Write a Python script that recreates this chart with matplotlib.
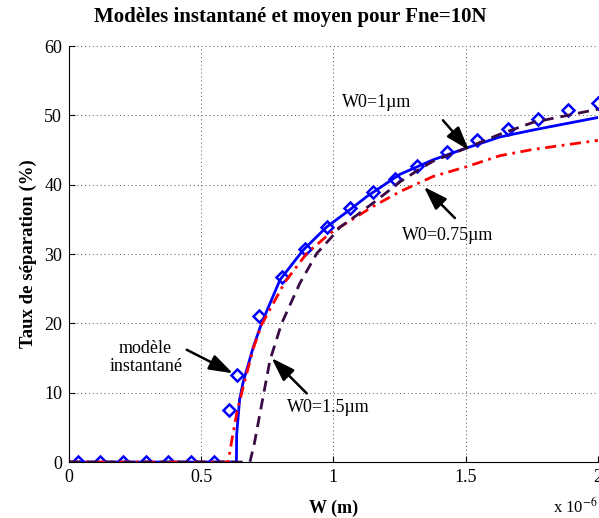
import matplotlib
matplotlib.use('Agg')
import matplotlib.pyplot as plt
from matplotlib.ticker import FuncFormatter, MultipleLocator

plt.rcParams['font.family'] = ['Liberation Serif', 'DejaVu Serif']
plt.rcParams['mathtext.fontset'] = 'stix'

# Mesures (modèle instantané) - largeur W en µm, taux de séparation en %
w_mesure = [0.034, 0.117, 0.204, 0.291, 0.374, 0.461, 0.548, 0.605, 0.634, 0.718,
            0.805, 0.892, 0.975, 1.062, 1.149, 1.233, 1.316, 1.429, 1.543, 1.660,
            1.773, 1.887, 2.0]
taux_mesure = [0, 0, 0, 0, 0, 0, 0, 7.5, 12.5, 21.1,
               26.7, 30.8, 33.9, 36.6, 38.9, 40.9, 42.7, 44.7, 46.4, 48.0,
               49.5, 50.8, 51.8]

# W0 = 1 µm (trait plein bleu)
w_1 = [0, 0.633, 0.634, 0.645, 0.659, 0.697, 0.728, 0.798, 0.886, 0.974, 1.062,
       1.126, 1.251, 1.377, 1.503, 1.63, 1.755, 2.0]
taux_1 = [0, 0, 4.0, 9.0, 11.6, 16.6, 20.0, 26.3, 30.6, 33.9, 36.4,
          38.3, 41.5, 43.6, 45.3, 46.9, 47.9, 49.7]

# W0 = 0.75 µm (tiret-point rouge)
w_075 = [0, 0.602, 0.615, 0.634, 0.659, 0.697, 0.728, 0.817, 0.899, 0.987, 1.088,
         1.151, 1.251, 1.377, 1.503, 1.63, 1.755, 2.0]
taux_075 = [0, 0, 3.0, 7.0, 10.9, 16.4, 19.8, 26.0, 30.1, 33.0, 35.4,
            36.9, 39.0, 41.2, 42.6, 44.2, 45.1, 46.4]

# W0 = 1.5 µm (tirets violets)
w_15 = [0, 0.684, 0.700, 0.722, 0.760, 0.804, 0.873, 0.937, 0.999, 1.025, 1.088,
        1.151, 1.251, 1.327, 1.377, 1.503, 1.63, 1.755, 2.0]
taux_15 = [0, 0, 2.5, 7.0, 14.7, 20.0, 25.8, 30.1, 32.7, 33.9, 35.6,
           37.4, 40.4, 42.3, 43.4, 45.3, 47.3, 49.0, 50.9]

fig = plt.figure(figsize=(5.99, 5.18), dpi=100)
ax = fig.add_axes([0.1152, 0.108, 0.883, 0.803])

ax.plot(w_mesure, taux_mesure, linestyle='none', marker='D', markersize=6.5,
        markerfacecolor='none', markeredgecolor='#0000ff', markeredgewidth=1.8)
ax.plot(w_1, taux_1, color='#0000ff', linewidth=2)
ax.plot(w_075, taux_075, color='#ff0000', linewidth=2, linestyle=(0, (4, 2, 1, 2)))
ax.plot(w_15, taux_15, color='#3a0a45', linewidth=2, linestyle=(0, (4, 2.5)))

ax.set_xlim(0, 2)
ax.set_ylim(0, 60)
ax.xaxis.set_major_locator(MultipleLocator(0.5))
ax.yaxis.set_major_locator(MultipleLocator(10))
ax.xaxis.set_major_formatter(FuncFormatter(lambda v, p: f'{v:g}'))
ax.grid(True, linestyle=(0, (1, 3)), color='#555555', linewidth=0.7)
ax.tick_params(direction='in', labelsize=13, length=4, width=0.8, pad=5)
for s in ['top', 'right']:
    ax.spines[s].set_visible(False)

ax.set_xlabel('W (m)', fontsize=13, fontweight='bold', labelpad=10)
ax.set_ylabel('Taux de séparation (%)', fontsize=13.5, fontweight='bold', labelpad=5)
fig.text(290 / 599, 1 - 17 / 518, 'Modèles instantané et moyen pour Fne=10N',
         ha='center', va='center', fontsize=15, fontweight='bold')
fig.text(0.998, 1 - 507 / 518, r'x 10$^{-6}$', ha='right', va='center', fontsize=12)

# Flèches et étiquettes
fleche = dict(arrowstyle='-|>,head_length=0.9,head_width=0.3', color='black',
              lw=1.8, mutation_scale=16, shrinkA=0, shrinkB=0)
ax.annotate('', xy=(1.512, 45.0), xytext=(1.414, 49.3), arrowprops=fleche)
ax.text(1.165, 51.8, 'W0=1µm', fontsize=13, ha='center', va='center')
ax.annotate('', xy=(1.342, 39.7), xytext=(1.459, 35.2), arrowprops=fleche)
ax.text(1.43, 32.7, 'W0=0.75µm', fontsize=13, ha='center', va='center')
ax.annotate('', xy=(0.766, 15.0), xytext=(0.899, 9.9), arrowprops=fleche)
ax.text(0.98, 7.8, 'W0=1.5µm', fontsize=13, ha='center', va='center')
ax.annotate('', xy=(0.62, 12.8), xytext=(0.445, 16.2), arrowprops=fleche)
ax.text(0.29, 15.1, 'modèle\ninstantané', fontsize=13, ha='center', va='center',
        multialignment='center', linespacing=1.1)

fig.savefig('out.png', dpi=100)
